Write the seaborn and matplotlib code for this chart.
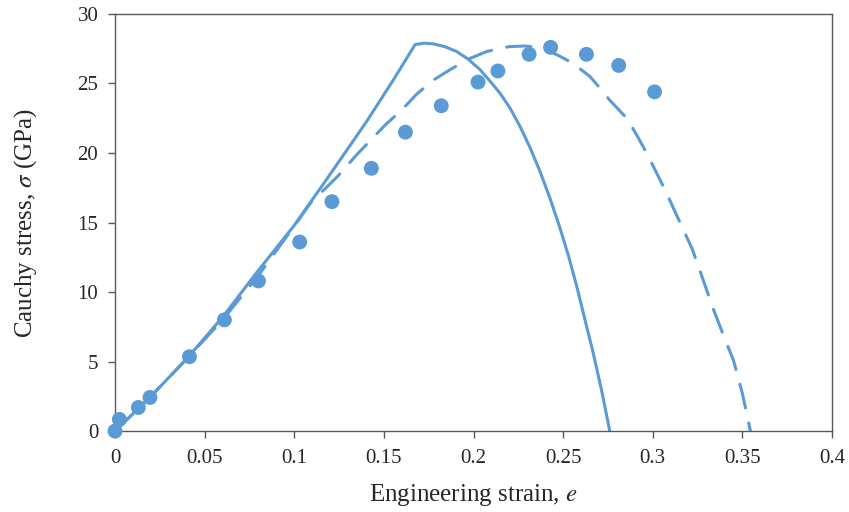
import matplotlib
matplotlib.use("Agg")
import matplotlib.pyplot as plt
import seaborn as sns
import pandas as pd

# Values
# measured points (strain, stress in GPa)
exp_strain = [0.0, 0.0024, 0.013, 0.0195, 0.0415, 0.061, 0.080, 0.103, 0.121, 0.143,
              0.162, 0.182, 0.2025, 0.2136, 0.231, 0.243, 0.263, 0.281, 0.301]
exp_stress = [0.0, 0.84, 1.7, 2.42, 5.35, 8.0, 10.8, 13.6, 16.5, 18.9,
              21.5, 23.4, 25.1, 25.9, 27.1, 27.6, 27.1, 26.3, 24.4]

# solid model curve
solid_strain = [0.0, 0.02, 0.04, 0.06, 0.079, 0.10, 0.118, 0.14, 0.155, 0.1674,
                0.1725, 0.1776, 0.184, 0.1906, 0.197, 0.2036, 0.209, 0.2148, 0.2205,
                0.226, 0.2315, 0.237, 0.2425, 0.248, 0.253, 0.2576, 0.262, 0.2668,
                0.2715, 0.276]
solid_stress = [0.0, 2.5, 5.2, 8.2, 11.4, 14.8, 18.1, 22.2, 25.2, 27.8,
                27.9, 27.85, 27.65, 27.3, 26.75, 26.0, 25.2, 24.3, 23.2,
                21.9, 20.4, 18.7, 16.8, 14.7, 12.6, 10.4, 8.1, 5.6,
                2.9, 0.0]

# dashed model curve
dashed_strain = [0.0, 0.02, 0.04, 0.06, 0.08, 0.10, 0.109, 0.124, 0.135, 0.1506,
                 0.16, 0.168, 0.177, 0.187, 0.197, 0.2074, 0.214, 0.220, 0.229, 0.235,
                 0.2408, 0.246, 0.252, 0.258, 0.265, 0.270, 0.276, 0.2855, 0.291,
                 0.2966, 0.302, 0.3078, 0.312, 0.317, 0.322, 0.3264, 0.334, 0.34,
                 0.345, 0.35, 0.3545]
dashed_stress = [0.0, 2.5, 5.2, 8.0, 11.2, 14.75, 16.4, 18.3, 19.9, 22.0,
                 23.1, 24.2, 25.2, 26.0, 26.75, 27.3, 27.5, 27.65, 27.7, 27.6,
                 27.4, 27.1, 26.7, 26.2, 25.5, 24.75, 23.8, 22.5, 21.3,
                 20.0, 18.6, 17.1, 15.9, 14.5, 13.1, 11.5, 8.7, 6.7,
                 5.1, 2.7, 0.0]

x_ticks = [0, 0.05, 0.1, 0.15, 0.2, 0.25, 0.3, 0.35, 0.4]
x_tick_labels = ["0", "0.05", "0.1", "0.15", "0.2", "0.25", "0.3", "0.35", "0.4"]
y_ticks = [0, 5, 10, 15, 20, 25, 30]

BLUE = "#5B9BD5"
AXIS_GREY = "#595959"

sns.set_style("ticks")
plt.rcParams["font.family"] = ["Liberation Serif", "DejaVu Serif"]
plt.rcParams["mathtext.fontset"] = "stix"

fig = plt.figure(figsize=(8.49, 5.12), dpi=100)
ax = fig.add_axes([0.1355, 0.158, 0.8445, 0.8147])

solid_df = pd.DataFrame({"strain": solid_strain, "stress": solid_stress})
dashed_df = pd.DataFrame({"strain": dashed_strain, "stress": dashed_stress})
exp_df = pd.DataFrame({"strain": exp_strain, "stress": exp_stress})

sns.lineplot(data=solid_df, x="strain", y="stress", sort=False, color=BLUE,
             lw=2.2, solid_capstyle="round", solid_joinstyle="round", ax=ax)
sns.lineplot(data=dashed_df, x="strain", y="stress", sort=False, color=BLUE,
             lw=2.2, dash_capstyle="round", dash_joinstyle="round", ax=ax)
ax.lines[-1].set_dashes((8, 5))
sns.scatterplot(data=exp_df, x="strain", y="stress", color=BLUE, s=115,
                edgecolor="none", zorder=5, clip_on=False, ax=ax)

ax.set_xlim(0, 0.4)
ax.set_ylim(0, 30)
ax.set_xticks(x_ticks)
ax.set_xticklabels(x_tick_labels)
ax.set_yticks(y_ticks)
ax.tick_params(axis="both", direction="out", length=5, width=1, color=AXIS_GREY,
               labelsize=15, labelcolor="#262626")
ax.tick_params(axis="y", pad=7)
ax.tick_params(axis="x", pad=8)
for side in ["left", "right", "top", "bottom"]:
    ax.spines[side].set_visible(True)
    ax.spines[side].set_color(AXIS_GREY)
    ax.spines[side].set_linewidth(1.0)

ax.set_xlabel("Engineering strain, $e$", fontsize=18, color="#262626", labelpad=10)
ax.set_ylabel("Cauchy stress, $\\sigma$ (GPa)", fontsize=18, color="#262626", labelpad=28)

fig.savefig("out.png", dpi=100)
